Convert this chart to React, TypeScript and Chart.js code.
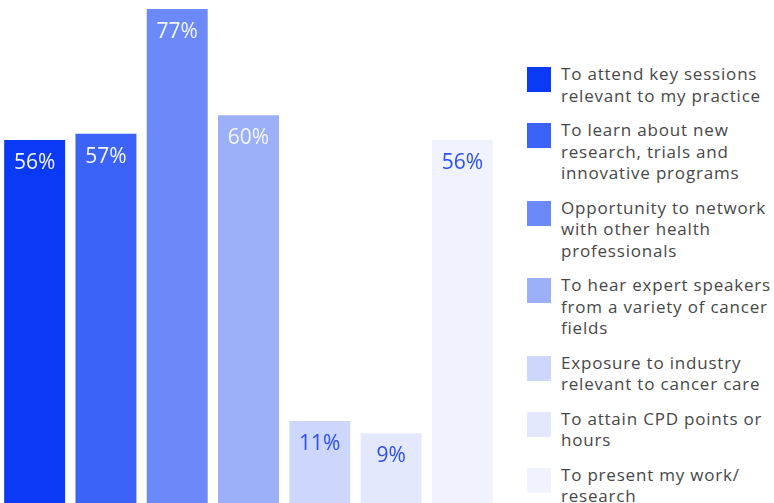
import React, { useEffect, useRef } from "react";
import { Chart, registerables } from "chart.js";

Chart.register(...registerables);

const categories: string[][] = [
  ["To attend key sessions", "relevant to my practice"],
  ["To learn about new", "research, trials and", "innovative programs"],
  ["Opportunity to network", "with other health", "professionals"],
  ["To hear expert speakers", "from a variety of cancer", "fields"],
  ["Exposure to industry", "relevant to cancer care"],
  ["To attain CPD points or", "hours"],
  ["To present my work/", "research"],
];
const values: number[] = [56, 57, 77, 60, 11, 9, 56];
const valueLabels: string[] = ["56%", "57%", "77%", "60%", "11%", "9%", "56%"];
const barColors: string[] = ["#0a3af5", "#3b63f8", "#6b89f9", "#9cb0f9", "#ccd7fb", "#e3e8fd", "#f0f3fe"];
const labelColors: string[] = ["#f4f6ff", "#f4f6ff", "#f4f6ff", "#f4f6ff", "#2a4ff5", "#2a4ff5", "#2a4ff5"];

const FONT = "'Open Sans', 'DejaVu Sans', sans-serif";

const labelPlugin = {
  id: "barLabels",
  afterDatasetsDraw(chart: any) {
    const ctx = chart.ctx;
    const meta = chart.getDatasetMeta(0);
    ctx.save();
    ctx.font = `400 21px ${FONT}`;
    ctx.textAlign = "center";
    ctx.textBaseline = "middle";
    meta.data.forEach((bar: any, i: number) => {
      ctx.fillStyle = labelColors[i];
      ctx.fillText(valueLabels[i], bar.x, bar.y + 23);
    });
    ctx.restore();
  },
};

export default function App() {
  const ref = useRef<HTMLCanvasElement | null>(null);
  useEffect(() => {
    if (!ref.current) return;
    const chart = new Chart(ref.current, {
      type: "bar",
      data: {
        labels: categories.map((c) => c.join(" ")),
        datasets: [
          {
            data: values,
            backgroundColor: barColors,
            borderWidth: 0,
            base: -2.16,
            barPercentage: 0.855,
            categoryPercentage: 1,
          } as any,
        ],
      },
      options: {
        animation: false,
        responsive: true,
        maintainAspectRatio: false,
        layout: { padding: 0 },
        plugins: { legend: { display: false }, tooltip: { enabled: false } },
        scales: {
          x: { display: false, offset: true },
          y: { display: false, min: -2.16, max: 78.45 },
        },
      },
      plugins: [labelPlugin],
    });
    return () => chart.destroy();
  }, []);

  return (
    <div style={{ position: "fixed", left: 0, top: 0, width: 774, height: 503, background: "#fff", overflow: "hidden" }}>
      <div style={{ position: "absolute", left: -1, top: 0, width: 499, height: 503 }}>
        <canvas ref={ref} />
      </div>
      <div style={{ position: "absolute", left: 527, top: 63, fontFamily: FONT, fontSize: 17, letterSpacing: "0.8px", color: "#474747", lineHeight: "21.5px" }}>
        {categories.map((lines, i) => (
          <div key={i} style={{ display: "flex", alignItems: "flex-start", marginBottom: 13 }}>
            <div style={{ width: 24, height: 25, background: barColors[i], marginTop: 4, marginRight: 10, flexShrink: 0 }} />
            <div>
              {lines.map((l, j) => (
                <div key={j} style={{ whiteSpace: "nowrap" }}>{l}</div>
              ))}
            </div>
          </div>
        ))}
      </div>
    </div>
  );
}
